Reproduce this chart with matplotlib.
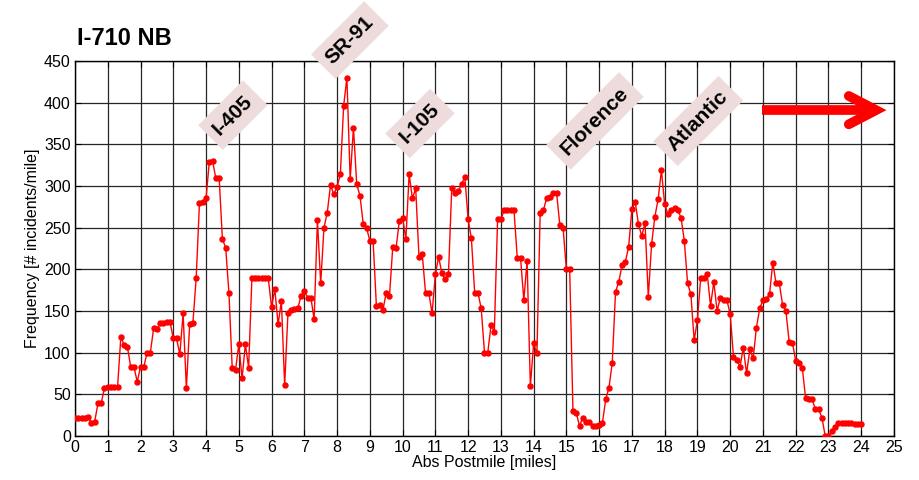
import numpy as np
import matplotlib.pyplot as plt

plt.rcParams['font.family'] = ['Liberation Sans', 'DejaVu Sans']

# Incident frequency along I-710 NB, one reading every 0.1 mile
postmile = np.round(np.arange(241) * 0.1, 1)
freq = [
    21, 21, 21, 22, 23, 16, 17, 39, 39, 58,
    59, 59, 59, 59, 119, 109, 107, 83, 83, 65,
    83, 83, 100, 100, 129, 128, 136, 136, 137, 137,
    117, 117, 98, 147, 57, 134, 136, 190, 280, 281,
    285, 329, 330, 309, 310, 236, 226, 171, 81, 79,
    110, 69, 110, 82, 189, 189, 189, 189, 189, 189,
    155, 176, 134, 162, 61, 147, 151, 152, 153, 168,
    174, 166, 166, 140, 259, 183, 250, 268, 301, 290,
    299, 314, 396, 430, 308, 370, 302, 288, 254, 250,
    234, 234, 156, 157, 151, 172, 168, 227, 225, 258,
    262, 236, 314, 285, 297, 215, 218, 172, 172, 147,
    194, 215, 195, 188, 194, 297, 292, 294, 302, 311,
    260, 237, 172, 172, 153, 100, 100, 133, 125, 260,
    260, 271, 271, 271, 271, 214, 214, 163, 210, 60,
    111, 99, 268, 271, 286, 287, 292, 292, 253, 249,
    200, 200, 30, 28, 12, 22, 17, 17, 12, 12,
    13, 16, 44, 58, 88, 173, 185, 205, 209, 227,
    272, 281, 254, 240, 256, 167, 230, 263, 284, 319,
    278, 266, 271, 274, 271, 262, 234, 183, 170, 115,
    139, 190, 189, 194, 156, 185, 150, 166, 163, 163,
    146, 95, 91, 83, 106, 75, 104, 93, 130, 153,
    163, 164, 170, 208, 183, 183, 157, 150, 113, 112,
    90, 88, 82, 46, 44, 44, 32, 32, 22, 0,
    0, 6, 11, 15, 15, 15, 15, 15, 14, 14,
    14,
]

# Cross streets / freeways marked on the chart
landmarks = ['I-405', 'SR-91', 'I-105', 'Florence', 'Atlantic']
landmark_x = [4.82, 8.39, 10.53, 15.87, 19.02]
landmark_y = [385, 475, 375, 378, 378]

fig = plt.figure(figsize=(9.19, 4.8), dpi=100)
ax = fig.add_axes([0.0816, 0.0917, 0.8912, 0.7813])

ax.plot(postmile, freq, color='#ff0000', lw=1.0, marker='o', ms=3.6,
        mfc='#ff0000', mec='#ff0000', zorder=3)

ax.set_xlim(0, 25)
ax.set_ylim(0, 450)
ax.set_xticks(range(0, 26))
ax.set_yticks(range(0, 451, 50))
ax.grid(True, color='0.15', lw=0.9)
ax.tick_params(direction='in', top=True, right=True, length=4,
               labelsize=11.5, pad=3)
for s in ax.spines.values():
    s.set_linewidth(1.0)

ax.set_xlabel('Abs Postmile [miles]', fontsize=11.5, labelpad=0)
ax.set_ylabel('Frequency [# incidents/mile]', fontsize=11.5, labelpad=3)

for name, x, y in zip(landmarks, landmark_x, landmark_y):
    ax.text(x, y, name, rotation=45, ha='center', va='center',
            fontsize=15, fontweight='bold', clip_on=False, zorder=4,
            bbox=dict(boxstyle='square,pad=0.38', fc='#eedcdc', ec='none'))

# direction-of-travel arrow: straight shaft plus a rounded chevron head
ax.plot([20.97, 24.45], [391, 391], color='#ff0000', lw=7,
        solid_capstyle='butt', zorder=5)
ax.plot([23.62, 24.45, 23.62], [408, 391, 374], color='#ff0000', lw=7,
        solid_capstyle='round', solid_joinstyle='miter', zorder=5)

fig.text(0.084, 1 - 45 / 480, 'I-710 NB', fontsize=17, fontweight='bold',
         va='baseline')

fig.savefig('out.png', dpi=100)
